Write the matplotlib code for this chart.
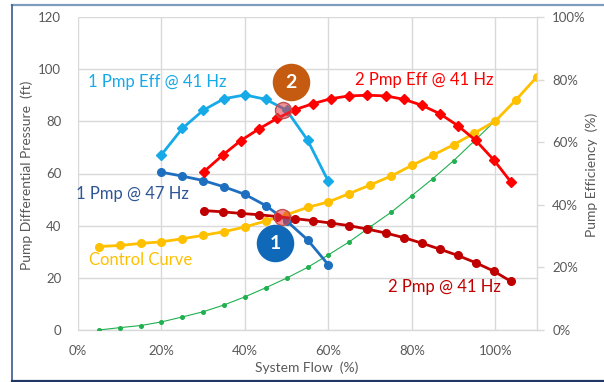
import matplotlib
matplotlib.use("Agg")
import matplotlib.pyplot as plt
from matplotlib.lines import Line2D
from matplotlib.ticker import FuncFormatter

plt.rcParams['font.family'] = ['Lato', 'DejaVu Sans']

# ---- data -------------------------------------------------------------
flow_sys = [5, 10, 15, 20, 25, 30, 35, 40, 45, 50, 55, 60, 65, 70, 75, 80, 85, 90, 95, 100]
system_curve = [0.0, 0.9, 1.7, 3.1, 5.0, 7.0, 9.6, 12.7, 16.2, 19.9, 24.0, 28.8, 33.8,
                39.5, 45.1, 51.5, 58.0, 64.9, 72.5, 80.3]

flow_ctrl = [5, 10, 15, 20, 25, 30, 35, 40, 45, 50, 55, 60, 65, 70, 75, 80, 85, 90, 95,
             100, 105, 110]
control_curve = [32.0, 32.4, 33.2, 33.8, 35.0, 36.3, 37.7, 39.5, 41.8, 44.2, 47.0, 49.1,
                 52.3, 55.6, 59.0, 63.1, 67.0, 71.0, 75.5, 80.1, 88.3, 97.1]

flow_1p = [20, 25, 30, 35, 40, 45, 50, 55, 60]
head_1p_47hz = [60.5, 59.0, 57.3, 54.9, 52.0, 47.7, 41.8, 34.6, 25.0]
eff_1p_41hz = [56.0, 64.4, 70.2, 73.9, 75.1, 73.7, 70.2, 60.7, 47.5]

flow_2p = [30.1, 34.7, 39.0, 43.3, 47.7, 52.0, 56.3, 60.6, 65.0, 69.3, 73.7, 78.1, 82.4,
           86.7, 91.0, 95.3, 99.6, 103.8]
head_2p_41hz = [45.8, 45.3, 44.7, 44.2, 43.5, 42.7, 41.9, 41.0, 40.0, 38.7, 37.2, 35.4,
                33.3, 31.0, 28.6, 25.8, 22.6, 18.6]
eff_2p_41hz = [50.5, 55.9, 60.5, 64.2, 67.6, 70.4, 72.3, 73.9, 74.8, 75.0, 74.8, 73.7,
               71.8, 69.1, 65.3, 60.6, 54.4, 47.2]

# operating points (flow %, head ft)
op_flow = [49.1, 48.9]
op_head = [84.3, 43.3]
# numbered callouts
badge_labels = ['2', '1']
badge_flow = [51.0, 47.3]
badge_head = [94.9, 33.3]
badge_colors = ['#c55a11', '#1068b8']

x_ticks = [0, 20, 40, 60, 80, 100]
y_ticks = [0, 20, 40, 60, 80, 100, 120]
eff_ticks = [0, 20, 40, 60, 80, 100]

# ---- colours ----------------------------------------------------------
c_green = '#1fb04f'
c_yellow = '#ffc000'
c_dblue = '#1f6fc0'
c_lblue = '#16aae8'
c_red = '#ff0000'
c_dred = '#c00000'
c_tick = '#595959'
c_grid = '#d9d9d9'

fig = plt.figure(figsize=(6.04, 3.82), dpi=100)
ax = fig.add_axes([78 / 604, 52 / 382, 459 / 604, 313 / 382])
ax2 = ax.twinx()

ax.set_xlim(0, 110)
ax.set_ylim(0, 120)
ax2.set_ylim(0, 100)

ax.set_xticks(x_ticks)
ax.set_yticks(y_ticks)
ax2.set_yticks(eff_ticks)
ax.xaxis.set_major_formatter(FuncFormatter(lambda v, p: f"{v:.0f}%"))
ax2.yaxis.set_major_formatter(FuncFormatter(lambda v, p: f"{v:.0f}%"))

ax.grid(True, color=c_grid, linewidth=1.0)
ax.set_axisbelow(True)
for s in ['top', 'left', 'right']:
    ax.spines[s].set_visible(False)
ax.spines['bottom'].set_color(c_grid)
ax.spines['bottom'].set_linewidth(1.0)
for s in ['top', 'left', 'bottom']:
    ax2.spines[s].set_visible(False)
ax2.spines['right'].set_color(c_grid)
ax2.spines['right'].set_linewidth(1.0)

ax.tick_params(axis='both', length=0, colors=c_tick, labelsize=9.5)
ax.tick_params(axis='y', pad=12)
ax.tick_params(axis='x', pad=11)
ax2.tick_params(axis='y', length=5, width=1.0, color=c_grid, colors=c_tick,
                labelsize=9.5, pad=6)
ax2.tick_params(axis='y', color=c_grid)

# ---- curves -----------------------------------------------------------
ax.plot(flow_sys, system_curve, color=c_green, lw=0.8, marker='o', ms=2.6, zorder=3)
ax.plot(flow_ctrl, control_curve, color=c_yellow, lw=2.0, marker='o', ms=5.5, zorder=4)
ax.plot(flow_1p, head_1p_47hz, color=c_dblue, lw=2.0, marker='o', ms=5.5, zorder=4)
ax.plot(flow_2p, head_2p_41hz, color=c_dred, lw=2.0, marker='o', ms=5.5, zorder=4)
ax2.plot(flow_1p, eff_1p_41hz, color=c_lblue, lw=2.0, marker='D', ms=5, zorder=4)
ax2.plot(flow_2p, eff_2p_41hz, color=c_red, lw=2.0, marker='D', ms=5, zorder=4)

# operating points and callouts drawn on top
ax2.set_zorder(ax.get_zorder() + 1)
ax2.patch.set_visible(False)
to_eff = lambda h: h * 100 / 120
ax2.plot(op_flow, [to_eff(h) for h in op_head], linestyle='none', marker='o', ms=11.5,
         markerfacecolor=(0.9, 0.2, 0.25, 0.55), markeredgecolor='#c0504d',
         markeredgewidth=1.0, zorder=6)
for lab, fx, hy, col in zip(badge_labels, badge_flow, badge_head, badge_colors):
    ax2.plot([fx], [to_eff(hy)], linestyle='none', marker='o', ms=26,
             markerfacecolor=col, markeredgecolor=col, zorder=7)
    ax2.text(fx, to_eff(hy), lab, color='white', fontsize=14, fontweight='bold',
             ha='center', va='center', zorder=8)

# curve labels
ax2.text(2.4, to_eff(95.0), '1 Pmp Eff @ 41 Hz', color=c_lblue, fontsize=12,
         ha='left', va='center')
ax2.text(66.5, to_eff(95.8), '2 Pmp Eff @ 41 Hz', color=c_red, fontsize=12,
         ha='left', va='center')
ax2.text(-0.5, to_eff(52.0), '1 Pmp @ 47 Hz', color='#2f5597', fontsize=12,
         ha='left', va='center')
ax2.text(2.6, to_eff(26.9), 'Control Curve', color=c_yellow, fontsize=12,
         ha='left', va='center')
ax2.text(74.2, to_eff(16.5), '2 Pmp @ 41 Hz', color=c_dred, fontsize=12,
         ha='left', va='center')

# axis titles
fig.text(27 / 604, 1 - 175 / 382, 'Pump Differential Pressure  (ft)', rotation=90,
         color=c_tick, fontsize=10, ha='center', va='center')
fig.text(307 / 604, 1 - 368 / 382, 'System Flow  (%)', color=c_tick, fontsize=10,
         ha='center', va='center')
fig.text(592 / 604, 1 - 175 / 382, 'Pump Efficiency  (%)', rotation=90,
         color=c_tick, fontsize=10, ha='center', va='center')

# outer frame
fig.add_artist(Line2D([11.5 / 604, 1.0], [1 - 5 / 382, 1 - 5 / 382],
                      transform=fig.transFigure, color='#7f9cc0', lw=1.6))
fig.add_artist(Line2D([11.5 / 604, 11.5 / 604], [1 - 5 / 382, 1 - 381 / 382],
                      transform=fig.transFigure, color='#3b5a8c', lw=1.2))
fig.add_artist(Line2D([11.5 / 604, 1.0], [1 - 381 / 382, 1 - 381 / 382],
                      transform=fig.transFigure, color='#1f3864', lw=1.6))

fig.savefig('out.png', dpi=100)
